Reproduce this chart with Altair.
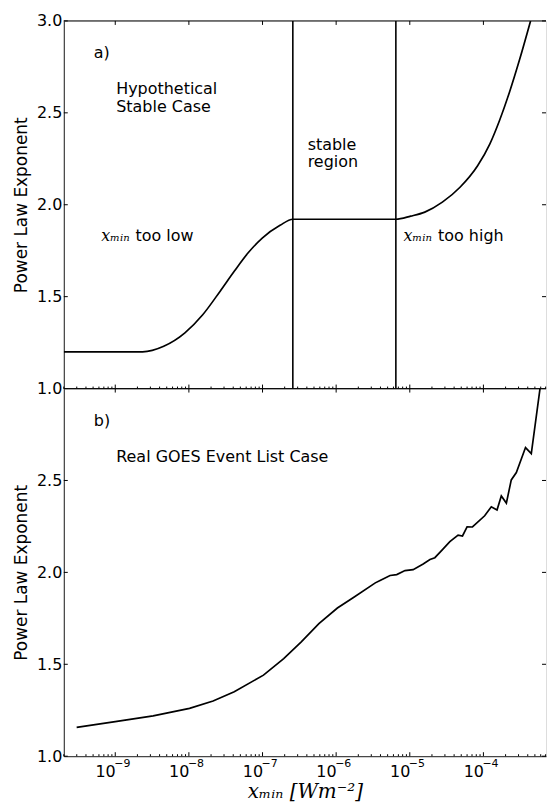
import altair as alt
import pandas as pd

# ---------------- data ----------------
X_DOMAIN = [2.0e-10, 7.08e-4]
Y_DOMAIN = [1.0, 3.0]

# panel a) hypothetical stable case
a_x = [2.0e-10, 2.35e-9, 4.55e-9, 8.83e-9, 1.53e-8, 2.66e-8, 4.13e-8, 6.43e-8,
       1.0e-7, 1.73e-7, 2.58e-7, 6.47e-6, 1.03e-5, 1.60e-5, 2.77e-5, 4.81e-5,
       8.34e-5, 1.22e-4, 1.66e-4, 2.27e-4, 3.10e-4, 4.37e-4]
a_y = [1.20, 1.20, 1.23, 1.303, 1.40, 1.53, 1.638, 1.74,
       1.82, 1.888, 1.921, 1.921, 1.938, 1.960, 2.014, 2.095,
       2.212, 2.33, 2.46, 2.615, 2.79, 3.00]

stable_edges = [2.58e-7, 6.47e-6]

# panel b) real GOES event list case
b_x = [2.99e-10, 1.0e-9, 3.27e-9, 1.02e-8, 2.13e-8, 4.13e-8, 1.03e-7, 1.94e-7,
       3.36e-7, 5.83e-7, 1.04e-6, 1.76e-6, 3.40e-6, 3.95e-6, 5.40e-6, 6.65e-6,
       8.61e-6, 1.11e-5, 1.52e-5, 1.88e-5, 2.19e-5, 2.70e-5, 3.50e-5, 4.53e-5,
       5.20e-5, 6.00e-5, 7.10e-5, 1.04e-4, 1.28e-4, 1.53e-4, 1.75e-4, 2.05e-4,
       2.39e-4, 2.80e-4, 3.73e-4, 4.47e-4, 5.87e-4]
b_y = [1.157, 1.188, 1.219, 1.260, 1.300, 1.351, 1.441, 1.531,
       1.622, 1.721, 1.806, 1.866, 1.943, 1.956, 1.983, 1.988,
       2.010, 2.015, 2.046, 2.070, 2.080, 2.118, 2.167, 2.203,
       2.198, 2.248, 2.247, 2.308, 2.357, 2.339, 2.416, 2.377,
       2.503, 2.543, 2.679, 2.646, 3.000]

# ticks and tick labels
decades = [1e-9, 1e-8, 1e-7, 1e-6, 1e-5, 1e-4]
decade_base = ["10", "10", "10", "10", "10", "10"]
decade_exp = ["\u22129", "\u22128", "\u22127", "\u22126", "\u22125", "\u22124"]
minor_ticks = [m * 10.0 ** e for e in range(-10, -3) for m in range(2, 10)
               if X_DOMAIN[0] <= m * 10.0 ** e <= X_DOMAIN[1]]
y_ticks_a = [1.0, 1.5, 2.0, 2.5, 3.0]
y_ticks_b = [1.0, 1.5, 2.0, 2.5]

# annotations (anchor positions in data units)
ann_a_text = ["a)", "Hypothetical", "Stable Case", "stable", "region", "too low", "too high"]
ann_a_x = [5.12e-10, 1.03e-9, 1.03e-9, 4.10e-7, 4.10e-7, 1.88e-9, 2.42e-5]
ann_a_y = [2.823, 2.627, 2.531, 2.326, 2.230, 1.830, 1.830]
math_a_text = ["x\u2098\u1d62\u2099", "x\u2098\u1d62\u2099"]
math_a_x = [6.47e-10, 8.22e-6]
math_a_y = [1.830, 1.830]

ann_b_text = ["b)", "Real GOES Event List Case"]
ann_b_x = [5.12e-10, 1.03e-9]
ann_b_y = [2.823, 2.630]

X_TITLE = "x\u2098\u1d62\u2099  [Wm\u207b\u00b2]"
Y_TITLE = "Power Law Exponent"

# ---------------- chart ----------------
W, H = 484, 369
FONT = "DejaVu Sans"
INK = "black"

xs = alt.Scale(type="log", domain=X_DOMAIN, nice=False)
ys = alt.Scale(domain=Y_DOMAIN, nice=False, zero=False)

one = pd.DataFrame({"v": [0]})
df_major = pd.DataFrame({"x": decades, "e": decade_exp})
df_minor = pd.DataFrame({"x": minor_ticks})


def y_axis(values):
    return alt.Axis(values=values, format=".1f", ticks=False, labelPadding=2,
                    labelFontSize=16, labelFont=FONT, labelColor=INK,
                    title=Y_TITLE, titleFont=FONT, titleFontSize=17,
                    titleFontWeight="normal", titleColor=INK, titlePadding=6,
                    domainColor="#222", grid=False, labelOverlap=False)


x_axis_a = alt.Axis(labels=False, ticks=False, title=None, domainColor="#222", grid=False)
x_axis_b = alt.Axis(values=decades, labelExpr="'" + decade_base[0] + "'",
                    ticks=False, labelAlign="right", labelPadding=7,
                    labelFontSize=16, labelFont=FONT, labelColor=INK,
                    labelOverlap=False, labelFlush=False,
                    title=X_TITLE, titleFont="DejaVu Serif",
                    titleFontStyle="italic", titleFontWeight="normal",
                    titleFontSize=20, titleColor=INK, titlePadding=2,
                    domainColor="#222", grid=False)


def panel(line_df, line_kw, y_ticks, x_axis, y_ax, extra):
    X = alt.X("x:Q", scale=xs, axis=x_axis)
    Y = alt.Y("y:Q", scale=ys, axis=y_ax)
    df_y = pd.DataFrame({"y": y_ticks})
    line = alt.Chart(line_df).mark_line(color=INK, strokeWidth=1.7, clip=True,
                                        **line_kw).encode(x=X, y=Y)
    top = alt.Chart(one).mark_rule(color=INK, strokeWidth=1).encode(
        x=alt.value(0), x2=alt.value(W), y=alt.value(0))
    maj_top = alt.Chart(df_major).mark_rule(color=INK).encode(
        x=X, y=alt.value(0), y2=alt.value(4))
    maj_bot = alt.Chart(df_major).mark_rule(color=INK).encode(
        x=X, y=alt.value(H), y2=alt.value(H - 4))
    min_bot = alt.Chart(df_minor).mark_rule(color=INK).encode(
        x=X, y=alt.value(H), y2=alt.value(H - 2))
    yl = alt.Chart(df_y).mark_rule(color=INK).encode(
        y=Y, x=alt.value(0), x2=alt.value(4))
    yr = alt.Chart(df_y).mark_rule(color=INK).encode(
        y=Y, x=alt.value(W - 4), x2=alt.value(W))
    layers = [line, top, maj_top, maj_bot, min_bot, yl, yr] + [f(X, Y) for f in extra]
    return alt.layer(*layers).properties(width=W, height=H)


# ----- panel a extras -----
def edges_a(X, Y):
    return alt.Chart(pd.DataFrame({"x": stable_edges})).mark_rule(
        color=INK, strokeWidth=1.6).encode(x=X, y=alt.value(0), y2=alt.value(H))


def txt_a(X, Y):
    return alt.Chart(pd.DataFrame({"x": ann_a_x, "y": ann_a_y, "t": ann_a_text})).mark_text(
        align="left", baseline="middle", font=FONT, fontSize=16, color=INK).encode(
        x=X, y=Y, text="t:N")


def math_a(X, Y):
    return alt.Chart(pd.DataFrame({"x": math_a_x, "y": math_a_y, "t": math_a_text})).mark_text(
        align="left", baseline="middle", font="DejaVu Serif", fontStyle="italic",
        fontSize=16, color=INK).encode(x=X, y=Y, text="t:N")


# ----- panel b extras -----
def exp_b(X, Y):
    return alt.Chart(df_major).mark_text(
        align="left", baseline="top", font=FONT, fontSize=11, dx=-1, color=INK).encode(
        x=X, y=alt.value(H + 2), text="e:N")


def txt_b(X, Y):
    return alt.Chart(pd.DataFrame({"x": ann_b_x, "y": ann_b_y, "t": ann_b_text})).mark_text(
        align="left", baseline="middle", font=FONT, fontSize=16, color=INK).encode(
        x=X, y=Y, text="t:N")


panel_a = panel(pd.DataFrame({"x": a_x, "y": a_y}), {"interpolate": "monotone"},
                y_ticks_a, x_axis_a, y_axis(y_ticks_a), [edges_a, txt_a, math_a])
panel_b = panel(pd.DataFrame({"x": b_x, "y": b_y}), {},
                y_ticks_b, x_axis_b, y_axis(y_ticks_b), [exp_b, txt_b])

chart = alt.vconcat(panel_a, panel_b, spacing=0, bounds="flush").properties(
    padding={"left": 4, "top": 2.5, "right": 0, "bottom": 0},
    background="white",
).configure_view(stroke=None).configure(font=FONT)

chart.save("out.html", embed_options={"renderer": "svg", "actions": False})
